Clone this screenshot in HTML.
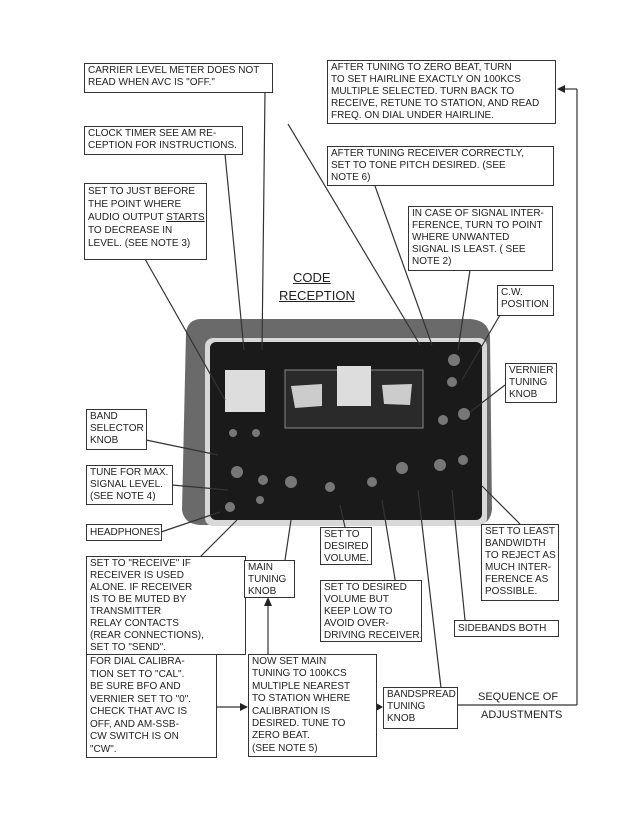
<!DOCTYPE html>
<html><head><style>
body{margin:0;background:#fff;width:637px;height:825px;position:relative;overflow:hidden;font-family:"Liberation Sans",sans-serif;}
.b{position:absolute;border:1.3px solid #333;background:#fff;font-size:10px;line-height:12px;color:#222;padding:1px 3px;box-sizing:border-box;white-space:nowrap;overflow:hidden}
.t{position:absolute;font-size:11px;color:#222;}
svg{position:absolute;left:0;top:0}
</style></head><body>
<svg width="637" height="825">
<path d="M186,332 Q188,320 200,319 L470,319 Q488,320 490,336 L492,510 Q490,524 478,525 L200,525 Q184,524 182,510 Z" fill="#6a6a6a"/>
<rect x="205" y="338" width="282" height="188" rx="8" fill="#d8d8d8"/>
<rect x="210" y="342" width="272" height="178" rx="6" fill="#1a1a1a"/>
<rect x="225" y="370" width="40" height="42" fill="#ddd"/>
<rect x="285" y="370" width="138" height="58" fill="#2a2a2a" stroke="#888"/>
<path d="M291,386 L322,384 L322,406 L295,408 Z" fill="#ccc"/>
<rect x="337" y="366" width="34" height="40" fill="#ddd"/>
<path d="M382,385 L412,384 L410,405 L384,404 Z" fill="#ccc"/>
<g fill="#777"><circle cx="454" cy="360" r="6"/><circle cx="452" cy="382" r="5"/><circle cx="443" cy="420" r="5"/><circle cx="464" cy="414" r="6"/><circle cx="237" cy="472" r="6"/><circle cx="263" cy="480" r="5"/><circle cx="291" cy="482" r="6"/><circle cx="330" cy="487" r="5"/><circle cx="372" cy="482" r="5"/><circle cx="402" cy="468" r="6"/><circle cx="440" cy="465" r="6"/><circle cx="463" cy="460" r="5"/><circle cx="230" cy="507" r="5"/><circle cx="260" cy="500" r="4"/><circle cx="233" cy="433" r="4"/><circle cx="256" cy="433" r="4"/></g>
<g stroke="#333" stroke-width="1.2" fill="none">
<line x1="265" y1="92" x2="262" y2="350"/>
<line x1="225" y1="154" x2="244" y2="350"/>
<line x1="145" y1="259" x2="225" y2="400"/>
<line x1="288" y1="124" x2="420" y2="345"/>
<line x1="375" y1="186" x2="432" y2="345"/>
<line x1="470" y1="270" x2="458" y2="350"/>
<line x1="500" y1="315" x2="462" y2="380"/>
<line x1="505" y1="385" x2="470" y2="412"/>
<line x1="146" y1="440" x2="218" y2="455"/>
<line x1="172" y1="485" x2="228" y2="490"/>
<line x1="161" y1="532" x2="220" y2="512"/>
<line x1="200" y1="557" x2="237" y2="520"/>
<line x1="285" y1="560" x2="291" y2="520"/>
<line x1="345" y1="527" x2="340" y2="505"/>
<line x1="405" y1="640" x2="382" y2="500"/>
<line x1="441" y1="688" x2="418" y2="490"/>
<line x1="465" y1="620" x2="452" y2="490"/>
<line x1="520" y1="524" x2="482" y2="486"/>
<line x1="457" y1="705" x2="577" y2="705"/>
<line x1="577" y1="705" x2="577" y2="89"/>
<line x1="577" y1="89" x2="563" y2="89"/>
<line x1="216" y1="707" x2="242" y2="707"/>
<line x1="376" y1="707" x2="380" y2="707"/>
<line x1="268" y1="654" x2="268" y2="606"/>
</g>
<g fill="#222">
<polygon points="557,89 565,85 565,93"/>
<polygon points="248,707 240,703 240,711"/>
<polygon points="383,707 376,703 376,711"/>
<polygon points="268,597 264,606 272,606"/>
</g>
</svg>
<div class="b" style="left:84px;top:63px;width:189px;height:30px">CARRIER LEVEL METER DOES NOT<br>READ WHEN AVC IS "OFF."</div>
<div class="b" style="left:84px;top:126px;width:159px;height:29px">CLOCK TIMER SEE AM RE-<br>CEPTION FOR INSTRUCTIONS.</div>
<div class="b" style="left:84px;top:183px;width:123px;height:77px;line-height:13px">SET TO JUST BEFORE<br>THE POINT WHERE<br>AUDIO OUTPUT <u>STARTS</u><br>TO DECREASE IN<br>LEVEL. (SEE NOTE 3)</div>
<div class="b" style="left:327px;top:60px;width:229px;height:64px">AFTER TUNING TO ZERO BEAT, TURN<br>TO SET HAIRLINE EXACTLY ON 100KCS<br>MULTIPLE SELECTED. TURN BACK TO<br>RECEIVE, RETUNE TO STATION, AND READ<br>FREQ. ON DIAL UNDER HAIRLINE.</div>
<div class="b" style="left:327px;top:146px;width:227px;height:40px">AFTER TUNING RECEIVER CORRECTLY,<br>SET TO TONE PITCH DESIRED. (SEE<br>NOTE 6)</div>
<div class="b" style="left:408px;top:206px;width:145px;height:65px">IN CASE OF SIGNAL INTER-<br>FERENCE, TURN TO POINT<br>WHERE UNWANTED<br>SIGNAL IS LEAST. ( SEE<br>NOTE 2)</div>
<div class="b" style="left:497px;top:285px;width:57px;height:31px">C.W.<br>POSITION</div>
<div class="b" style="left:505px;top:363px;width:52px;height:40px">VERNIER<br>TUNING<br>KNOB</div>
<div class="b" style="left:86px;top:409px;width:61px;height:41px">BAND<br>SELECTOR<br>KNOB</div>
<div class="b" style="left:86px;top:465px;width:87px;height:40px">TUNE FOR MAX.<br>SIGNAL LEVEL.<br>(SEE NOTE 4)</div>
<div class="b" style="left:86px;top:524px;width:76px;height:17px;line-height:13px">HEADPHONES</div>
<div class="b" style="left:86px;top:556px;width:160px;height:99px">SET TO "RECEIVE" IF<br>RECEIVER IS USED<br>ALONE. IF RECEIVER<br>IS TO BE MUTED BY<br>TRANSMITTER<br>RELAY CONTACTS<br>(REAR CONNECTIONS),<br>SET TO "SEND".</div>
<div class="b" style="left:86px;top:654px;width:131px;height:104px;line-height:12.5px">FOR DIAL CALIBRA-<br>TION SET TO "CAL".<br>BE SURE BFO AND<br>VERNIER SET TO "0".<br>CHECK THAT AVC IS<br>OFF, AND AM-SSB-<br>CW SWITCH IS ON<br>"CW".</div>
<div class="b" style="left:244px;top:560px;width:51px;height:38px">MAIN<br>TUNING<br>KNOB</div>
<div class="b" style="left:320px;top:527px;width:52px;height:38px">SET TO<br>DESIRED<br>VOLUME.</div>
<div class="b" style="left:320px;top:580px;width:102px;height:62px">SET TO DESIRED<br>VOLUME BUT<br>KEEP LOW TO<br>AVOID OVER-<br>DRIVING RECEIVER.</div>
<div class="b" style="left:481px;top:524px;width:78px;height:77px">SET TO LEAST<br>BANDWIDTH<br>TO REJECT AS<br>MUCH INTER-<br>FERENCE AS<br>POSSIBLE.</div>
<div class="b" style="left:454px;top:620px;width:105px;height:17px;line-height:13px">SIDEBANDS BOTH</div>
<div class="b" style="left:248px;top:654px;width:129px;height:103px;line-height:12.4px">NOW SET MAIN<br>TUNING TO 100KCS<br>MULTIPLE NEAREST<br>TO STATION WHERE<br>CALIBRATION IS<br>DESIRED. TUNE TO<br>ZERO BEAT.<br>(SEE NOTE 5)</div>
<div class="b" style="left:383px;top:687px;width:75px;height:42px">BANDSPREAD<br>TUNING<br>KNOB</div>
<div class="t" style="left:478px;top:691px">SEQUENCE OF</div>
<div class="t" style="left:481px;top:709px">ADJUSTMENTS</div>
<div class="t" style="left:293px;top:270px;font-size:13px;text-decoration:underline">CODE</div>
<div class="t" style="left:279px;top:288px;font-size:13px;text-decoration:underline">RECEPTION</div>
</body></html>
